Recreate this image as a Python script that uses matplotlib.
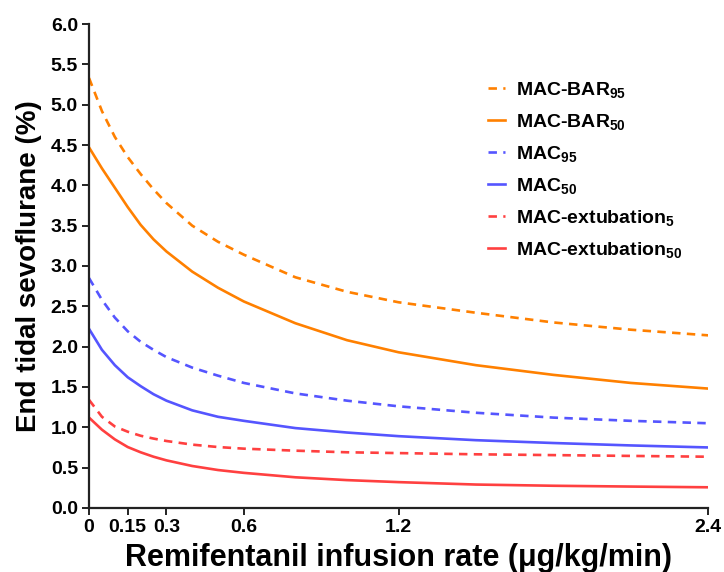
import matplotlib
matplotlib.use('Agg')
import matplotlib.pyplot as plt

plt.rcParams['font.family'] = ['Liberation Sans', 'DejaVu Sans']
plt.rcParams['font.weight'] = 'bold'
plt.rcParams['mathtext.fontset'] = 'custom'
plt.rcParams['mathtext.rm'] = 'Liberation Sans:bold'
plt.rcParams['mathtext.bf'] = 'Liberation Sans:bold'
plt.rcParams['mathtext.default'] = 'bf'

# remifentanil infusion rate (ug/kg/min)
rate = [0, 0.05, 0.1, 0.15, 0.2, 0.25, 0.3, 0.4, 0.5, 0.6, 0.8, 1.0, 1.2, 1.5, 1.8, 2.1, 2.4]

mac_bar95 = [5.33, 4.92, 4.60, 4.35, 4.14, 3.95, 3.78, 3.50, 3.30, 3.14, 2.86, 2.68, 2.55, 2.42, 2.30, 2.21, 2.14]
mac_bar50 = [4.47, 4.21, 3.97, 3.73, 3.51, 3.33, 3.18, 2.93, 2.73, 2.56, 2.29, 2.08, 1.93, 1.77, 1.65, 1.55, 1.48]
mac95 = [2.85, 2.58, 2.36, 2.19, 2.06, 1.96, 1.87, 1.74, 1.64, 1.55, 1.42, 1.33, 1.26, 1.18, 1.12, 1.08, 1.05]
mac50 = [2.22, 1.96, 1.77, 1.62, 1.51, 1.41, 1.33, 1.21, 1.13, 1.08, 0.99, 0.935, 0.89, 0.84, 0.805, 0.775, 0.75]
mac_ext5 = [1.34, 1.13, 1.01, 0.945, 0.895, 0.86, 0.83, 0.785, 0.755, 0.735, 0.71, 0.69, 0.68, 0.665, 0.655, 0.645, 0.635]
mac_ext50 = [1.12, 0.97, 0.85, 0.755, 0.69, 0.635, 0.59, 0.52, 0.47, 0.435, 0.38, 0.345, 0.32, 0.29, 0.275, 0.265, 0.256]

x_ticks = [0, 0.15, 0.3, 0.6, 1.2, 2.4]
x_ticklabels = ['0', '0.15', '0.3', '0.6', '1.2', '2.4']

orange = '#FF8000'
blue = '#5555FF'
red = '#FF4040'
dash = (0, (3.2, 2.4))

fig = plt.figure(figsize=(7.24, 5.72), dpi=100)
ax = fig.add_axes([0.123, 0.112, 0.855, 0.846])

lw = 1.9
ax.plot(rate, mac_bar95, color=orange, lw=lw, ls=dash, label='MAC-BAR$_{95}$')
ax.plot(rate, mac_bar50, color=orange, lw=lw, label='MAC-BAR$_{50}$')
ax.plot(rate, mac95, color=blue, lw=lw, ls=dash, label='MAC$_{95}$')
ax.plot(rate, mac50, color=blue, lw=lw, label='MAC$_{50}$')
ax.plot(rate, mac_ext5, color=red, lw=lw, ls=dash, label='MAC-extubation$_{5}$')
ax.plot(rate, mac_ext50, color=red, lw=lw, label='MAC-extubation$_{50}$')

ax.set_xlim(0, 2.4)
ax.set_ylim(0, 6.0)
ax.set_xticks(x_ticks)
ax.set_xticklabels(x_ticklabels)
ax.set_yticks([i * 0.5 for i in range(13)])
ax.set_yticklabels(['%.1f' % (i * 0.5) for i in range(13)])

for side in ['top', 'right']:
    ax.spines[side].set_visible(False)
for side in ['left', 'bottom']:
    ax.spines[side].set_linewidth(1.6)
    ax.spines[side].set_color('#222222')
ax.tick_params(direction='out', length=5, width=1.4, color='#222222',
               labelsize=14, pad=3)
for lab in ax.get_xticklabels() + ax.get_yticklabels():
    lab.set_fontweight('bold')

ax.set_xlabel('Remifentanil infusion rate (\u03bcg/kg/min)', fontsize=22,
              fontweight='bold', labelpad=5)
ax.set_ylabel('End tidal sevoflurane (%)', fontsize=20, fontweight='bold',
              labelpad=6)

ax.legend(loc='upper left', bbox_to_anchor=(0.66, 0.878),
          bbox_transform=fig.transFigure, frameon=False,
          handlelength=0.9, handletextpad=0.55, labelspacing=0.62,
          borderpad=0, prop={'weight': 'bold', 'size': 14})

fig.savefig('out.png', dpi=100)
